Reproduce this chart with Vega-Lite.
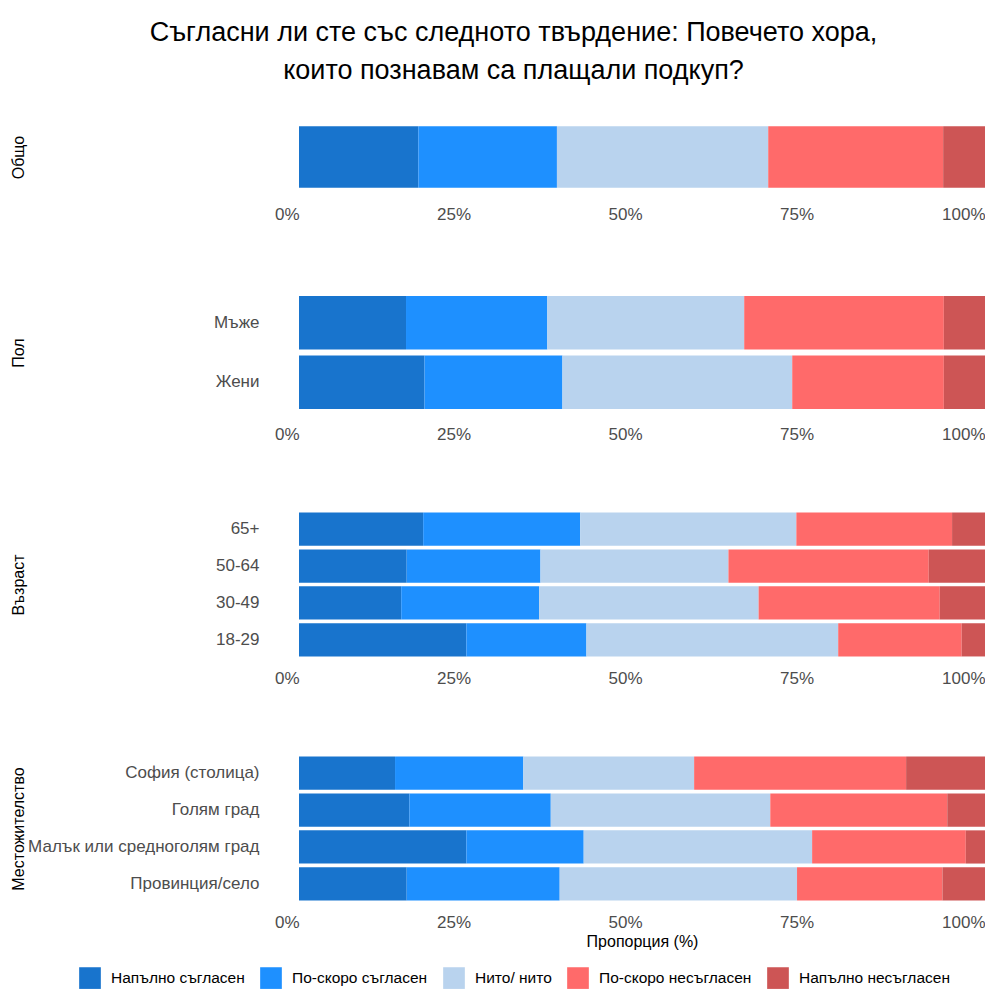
{
  "$schema": "https://vega.github.io/schema/vega-lite/v6.json",
  "background": "white",
  "padding": {"top": 19, "left": 10, "right": 0, "bottom": 0},
  "title": {
    "text": ["Съгласни ли сте със следното твърдение: Повечето хора,", "които познавам са плащали подкуп?"],
    "fontSize": 27,
    "font": "Liberation Sans",
    "fontWeight": "normal",
    "color": "black",
    "lineHeight": 38,
    "anchor": "middle",
    "dx": 16,
    "offset": 31
  },
  "data": {
    "values": [
      {"panel": "Общо", "group": "Общо", "response": "Напълно съгласен", "value": 17.4},
      {"panel": "Общо", "group": "Общо", "response": "По-скоро съгласен", "value": 20.2},
      {"panel": "Общо", "group": "Общо", "response": "Нито/ нито", "value": 30.8},
      {"panel": "Общо", "group": "Общо", "response": "По-скоро несъгласен", "value": 25.5},
      {"panel": "Общо", "group": "Общо", "response": "Напълно несъгласен", "value": 6.1},

      {"panel": "Пол", "group": "Мъже", "response": "Напълно съгласен", "value": 15.6},
      {"panel": "Пол", "group": "Мъже", "response": "По-скоро съгласен", "value": 20.6},
      {"panel": "Пол", "group": "Мъже", "response": "Нито/ нито", "value": 28.7},
      {"panel": "Пол", "group": "Мъже", "response": "По-скоро несъгласен", "value": 29.1},
      {"panel": "Пол", "group": "Мъже", "response": "Напълно несъгласен", "value": 6.0},
      {"panel": "Пол", "group": "Жени", "response": "Напълно съгласен", "value": 18.3},
      {"panel": "Пол", "group": "Жени", "response": "По-скоро съгласен", "value": 20.1},
      {"panel": "Пол", "group": "Жени", "response": "Нито/ нито", "value": 33.5},
      {"panel": "Пол", "group": "Жени", "response": "По-скоро несъгласен", "value": 22.1},
      {"panel": "Пол", "group": "Жени", "response": "Напълно несъгласен", "value": 6.0},

      {"panel": "Възраст", "group": "65+", "response": "Напълно съгласен", "value": 18.1},
      {"panel": "Възраст", "group": "65+", "response": "По-скоро съгласен", "value": 22.9},
      {"panel": "Възраст", "group": "65+", "response": "Нито/ нито", "value": 31.5},
      {"panel": "Възраст", "group": "65+", "response": "По-скоро несъгласен", "value": 22.7},
      {"panel": "Възраст", "group": "65+", "response": "Напълно несъгласен", "value": 4.8},
      {"panel": "Възраст", "group": "50-64", "response": "Напълно съгласен", "value": 15.7},
      {"panel": "Възраст", "group": "50-64", "response": "По-скоро съгласен", "value": 19.5},
      {"panel": "Възраст", "group": "50-64", "response": "Нито/ нито", "value": 27.4},
      {"panel": "Възраст", "group": "50-64", "response": "По-скоро несъгласен", "value": 29.2},
      {"panel": "Възраст", "group": "50-64", "response": "Напълно несъгласен", "value": 8.2},
      {"panel": "Възраст", "group": "30-49", "response": "Напълно съгласен", "value": 14.9},
      {"panel": "Възраст", "group": "30-49", "response": "По-скоро съгласен", "value": 20.1},
      {"panel": "Възраст", "group": "30-49", "response": "Нито/ нито", "value": 32.0},
      {"panel": "Възраст", "group": "30-49", "response": "По-скоро несъгласен", "value": 26.4},
      {"panel": "Възраст", "group": "30-49", "response": "Напълно несъгласен", "value": 6.6},
      {"panel": "Възраст", "group": "18-29", "response": "Напълно съгласен", "value": 24.4},
      {"panel": "Възраст", "group": "18-29", "response": "По-скоро съгласен", "value": 17.5},
      {"panel": "Възраст", "group": "18-29", "response": "Нито/ нито", "value": 36.7},
      {"panel": "Възраст", "group": "18-29", "response": "По-скоро несъгласен", "value": 18.0},
      {"panel": "Възраст", "group": "18-29", "response": "Напълно несъгласен", "value": 3.4},

      {"panel": "Местожителство", "group": "София (столица)", "response": "Напълно съгласен", "value": 14.0},
      {"panel": "Местожителство", "group": "София (столица)", "response": "По-скоро съгласен", "value": 18.7},
      {"panel": "Местожителство", "group": "София (столица)", "response": "Нито/ нито", "value": 24.9},
      {"panel": "Местожителство", "group": "София (столица)", "response": "По-скоро несъгласен", "value": 30.9},
      {"panel": "Местожителство", "group": "София (столица)", "response": "Напълно несъгласен", "value": 11.5},
      {"panel": "Местожителство", "group": "Голям град", "response": "Напълно съгласен", "value": 16.1},
      {"panel": "Местожителство", "group": "Голям град", "response": "По-скоро съгласен", "value": 20.6},
      {"panel": "Местожителство", "group": "Голям град", "response": "Нито/ нито", "value": 32.0},
      {"panel": "Местожителство", "group": "Голям град", "response": "По-скоро несъгласен", "value": 25.8},
      {"panel": "Местожителство", "group": "Голям град", "response": "Напълно несъгласен", "value": 5.5},
      {"panel": "Местожителство", "group": "Малък или средноголям град", "response": "Напълно съгласен", "value": 24.4},
      {"panel": "Местожителство", "group": "Малък или средноголям град", "response": "По-скоро съгласен", "value": 17.1},
      {"panel": "Местожителство", "group": "Малък или средноголям град", "response": "Нито/ нито", "value": 33.3},
      {"panel": "Местожителство", "group": "Малък или средноголям град", "response": "По-скоро несъгласен", "value": 22.4},
      {"panel": "Местожителство", "group": "Малък или средноголям град", "response": "Напълно несъгласен", "value": 2.8},
      {"panel": "Местожителство", "group": "Провинция/село", "response": "Напълно съгласен", "value": 15.7},
      {"panel": "Местожителство", "group": "Провинция/село", "response": "По-скоро съгласен", "value": 22.3},
      {"panel": "Местожителство", "group": "Провинция/село", "response": "Нито/ нито", "value": 34.6},
      {"panel": "Местожителство", "group": "Провинция/село", "response": "По-скоро несъгласен", "value": 21.2},
      {"panel": "Местожителство", "group": "Провинция/село", "response": "Напълно несъгласен", "value": 6.2}
    ]
  },
  "transform": [
    {"calculate": "indexof(['Напълно съгласен','По-скоро съгласен','Нито/ нито','По-скоро несъгласен','Напълно несъгласен'], datum.response)", "as": "k"}
  ],
  "spacing": 65,
  "vconcat": [
    {
      "width": 686,
      "height": 82,
      "transform": [{"filter": "datum.panel === 'Общо'"}],
      "mark": {"type": "bar"},
      "encoding": {
        "y": {"field": "group", "type": "nominal", "scale": {"paddingInner": 0.1, "paddingOuter": 0.15}, "axis": {"title": "Общо", "labels": false}},
        "x": {"field": "value", "type": "quantitative", "stack": "normalize", "scale": {"domain": [0, 1], "nice": false}, "axis": {"title": null, "values": [0, 0.25, 0.5, 0.75, 1], "format": ".0%"}},
        "color": {"field": "response", "type": "nominal", "scale": {"domain": ["Напълно съгласен", "По-скоро съгласен", "Нито/ нито", "По-скоро несъгласен", "Напълно несъгласен"], "range": ["#1874CD", "#1E90FF", "#B9D3EE", "#FF6A6A", "#CD5555"]}, "legend": {"title": null}},
        "order": {"field": "k", "type": "quantitative"}
      }
    },
    {
      "width": 686,
      "height": 131,
      "transform": [{"filter": "datum.panel === 'Пол'"}],
      "mark": {"type": "bar"},
      "encoding": {
        "y": {"field": "group", "type": "nominal", "sort": ["Мъже", "Жени"], "scale": {"paddingInner": 0.1, "paddingOuter": 0.15}, "axis": {"title": "Пол"}},
        "x": {"field": "value", "type": "quantitative", "stack": "normalize", "scale": {"domain": [0, 1], "nice": false}, "axis": {"title": null, "values": [0, 0.25, 0.5, 0.75, 1], "format": ".0%"}},
        "color": {"field": "response", "type": "nominal", "scale": {"domain": ["Напълно съгласен", "По-скоро съгласен", "Нито/ нито", "По-скоро несъгласен", "Напълно несъгласен"], "range": ["#1874CD", "#1E90FF", "#B9D3EE", "#FF6A6A", "#CD5555"]}, "legend": {"title": null}},
        "order": {"field": "k", "type": "quantitative"}
      }
    },
    {
      "width": 686,
      "height": 155,
      "transform": [{"filter": "datum.panel === 'Възраст'"}],
      "mark": {"type": "bar"},
      "encoding": {
        "y": {"field": "group", "type": "nominal", "sort": ["65+", "50-64", "30-49", "18-29"], "scale": {"paddingInner": 0.1, "paddingOuter": 0.15}, "axis": {"title": "Възраст"}},
        "x": {"field": "value", "type": "quantitative", "stack": "normalize", "scale": {"domain": [0, 1], "nice": false}, "axis": {"title": null, "values": [0, 0.25, 0.5, 0.75, 1], "format": ".0%"}},
        "color": {"field": "response", "type": "nominal", "scale": {"domain": ["Напълно съгласен", "По-скоро съгласен", "Нито/ нито", "По-скоро несъгласен", "Напълно несъгласен"], "range": ["#1874CD", "#1E90FF", "#B9D3EE", "#FF6A6A", "#CD5555"]}, "legend": {"title": null}},
        "order": {"field": "k", "type": "quantitative"}
      }
    },
    {
      "width": 686,
      "height": 155,
      "transform": [{"filter": "datum.panel === 'Местожителство'"}],
      "mark": {"type": "bar"},
      "encoding": {
        "y": {"field": "group", "type": "nominal", "sort": ["София (столица)", "Голям град", "Малък или средноголям град", "Провинция/село"], "scale": {"paddingInner": 0.1, "paddingOuter": 0.15}, "axis": {"title": "Местожителство"}},
        "x": {"field": "value", "type": "quantitative", "stack": "normalize", "scale": {"domain": [0, 1], "nice": false}, "axis": {"title": "Пропорция (%)", "values": [0, 0.25, 0.5, 0.75, 1], "format": ".0%"}},
        "color": {"field": "response", "type": "nominal", "scale": {"domain": ["Напълно съгласен", "По-скоро съгласен", "Нито/ нито", "По-скоро несъгласен", "Напълно несъгласен"], "range": ["#1874CD", "#1E90FF", "#B9D3EE", "#FF6A6A", "#CD5555"]}, "legend": {"title": null}},
        "order": {"field": "k", "type": "quantitative"}
      }
    }
  ],
  "config": {
    "font": "Liberation Sans",
    "view": {"stroke": null},
    "axis": {"grid": false, "domain": false, "ticks": false, "labelFont": "Liberation Sans", "labelFontSize": 17, "labelColor": "#4d4d4d", "titleFont": "Liberation Sans", "titleFontWeight": "normal", "titleColor": "black", "titleFontSize": 16},
    "axisX": {"labelAlign": "right", "labelFlush": false, "labelPadding": 8, "titlePadding": 3},
    "axisY": {"labelPadding": 40, "titleX": -281, "titleAngle": -90, "titleAlign": "center", "titleBaseline": "middle", "labelLimit": 400},
    "legend": {"orient": "none", "legendX": -220, "legendY": 851, "direction": "horizontal", "columns": 5, "symbolType": "square", "symbolSize": 470, "symbolStrokeWidth": 0, "labelFontSize": 15.5, "labelColor": "black", "labelFont": "Liberation Sans", "labelOffset": 10, "columnPadding": 15, "labelLimit": 300}
  }
}
